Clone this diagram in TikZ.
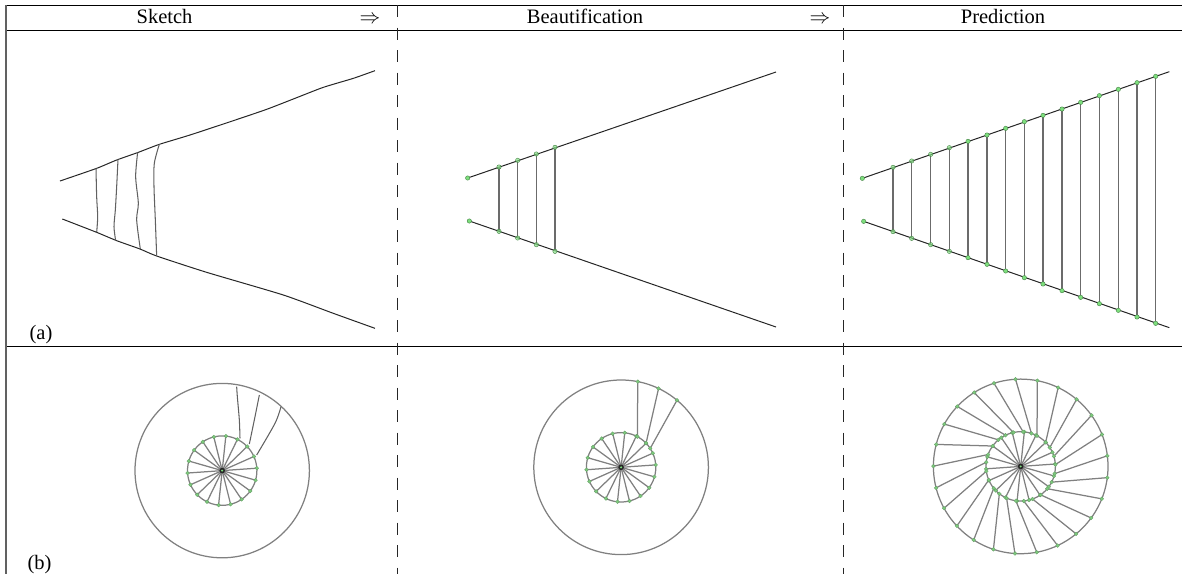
\documentclass[tikz,border=0pt]{standalone}
\usepackage{fontspec}
\setmainfont{Liberation Serif}
\definecolor{dotfill}{RGB}{125,222,125}
\definecolor{dotedge}{RGB}{70,130,70}
\definecolor{dotsoft}{RGB}{125,200,125}
\tikzset{
  rule/.style={line width=1pt,black},
  leftrule/.style={line width=1.3pt,black!62},
  sepline/.style={line width=1pt,black!85,dash pattern=on 12pt off 10.5pt},
  ink/.style={line width=1pt,black!85,line join=round},
  rungs/.style={line width=1.2pt,black!58},
  wheel/.style={line width=1.25pt,black!50},
  hand/.style={line width=1.05pt,black!62,line join=round},
  gdot/.style={circle,fill=dotfill,draw=dotedge,line width=0.4pt,inner sep=0pt,minimum size=4.4pt},
  gdim/.style={circle,fill=dotfill,fill opacity=0.65,draw=dotedge,line width=0.4pt,inner sep=0pt,minimum size=4.4pt},
  sdot/.style={circle,fill=dotsoft,draw=dotsoft!80!black,line width=0.3pt,inner sep=0pt,minimum size=3.8pt},
  label/.style={anchor=base,inner sep=0pt,font=\fontsize{20.5}{24}\selectfont},
  zoomed/.style={x=0.33333pt,y=-0.33333pt}
}
% inner wheel: 18 spokes and their dots
\newcommand{\innerwheel}{%
  \foreach \k in {0,...,17}{%
    \pgfmathsetmacro{\ang}{64-20*\k}%
    \draw[wheel] (0,0) -- ({34.7*cos(\ang)},{-34.7*sin(\ang)});
  }%
  \draw[wheel] (0,0) circle (34.7);
}
\newcommand{\innerdots}{%
  \foreach \k in {0,...,17}{%
    \pgfmathsetmacro{\ang}{64-20*\k}%
    \node[sdot] at ({34.7*cos(\ang)},{-34.7*sin(\ang)}) {};
  }%
  \fill[black!85] (0,0) circle (2.8);
  \fill[dotfill] (0,0) circle (1.1);
}
\begin{document}
\begin{tikzpicture}[x=1pt,y=-1pt]
\useasboundingbox (0,0) rectangle (1182,574);

% table rules
\draw[rule] (5.5,5.3) -- (1182,5.3);
\draw[rule] (5.5,30.2) -- (1182,30.2);
\draw[rule] (5.5,346) -- (1182,346);
\draw[leftrule] (6,5) -- (6,574);
\draw[sepline] (397.5,5) -- (397.5,574);
\draw[sepline] (843.3,5) -- (843.3,574);

% header and row labels
\node[label] (h1) at (164.5,23) {Sketch};
\node[label] (a1) at (370,23) {$\Rightarrow$};
\node[label] (h2) at (585,23) {Beautification};
\node[label] (a2) at (820,23) {$\Rightarrow$};
\node[label] (h3) at (1003,23) {Prediction};
\node[label] (ra) at (41,339) {(a)};
\node[label] (rb) at (39.5,569) {(b)};

% (a) sketch
\begin{scope}[zoomed]
\draw[ink] plot[smooth,tension=0.35] coordinates {(180,543) (290,505) (350,480) (415,457) (478,433) (570,405) (700,362) (800,328) (885,295) (970,262) (1060,235) (1125,212)};
\draw[ink] plot[smooth,tension=0.35] coordinates {(187,657) (290,697) (350,722) (420,747) (470,768) (620,817) (850,885) (1000,940) (1125,985)};
\draw[hand] plot[smooth] coordinates {(288,505) (290,590) (293,650) (290,697)};
\draw[hand] plot[smooth] coordinates {(354,478) (350,560) (346,630) (342,680) (347,722)};
\draw[hand] plot[smooth] coordinates {(413,457) (407,530) (415,610) (410,660) (421,747)};
\draw[hand] plot[smooth] coordinates {(478,433) (463,490) (462,560) (466,660) (470,768)};
\end{scope}

% (a) beautification
\begin{scope}[shift={(440,130)},zoomed]
\draw[ink] (83,144) -- (1008,-174);
\draw[ink] (88,273) -- (1008,591);
\foreach \x/\t/\b in {177/111/304,233/91/324,289/72/344,345/52/364}{
  \draw[rungs] (\x,\t) -- (\x,\b);
}
\foreach \x/\t/\b in {177/111/304,233/91/324,289/72/344,345/52/364}{
  \node[gdim] at (\x,\t) {};
  \node[gdim] at (\x,\b) {};
}
\node[gdot] at (83,144) {};
\node[gdot] at (88,273) {};
\end{scope}

% (a) prediction
\begin{scope}[shift={(850,60)},zoomed]
\draw[ink] (37,355) -- (958,35);
\draw[ink] (41,484) -- (958,803);
\foreach \x/\t/\b in {129/322/515,185/303/535,242/283/554,298/263/574,354/244/593,411/225/613,467/205/633,523/185/653,579/166/672,636/147/692,692/127/712,748/107/731,805/88/751,861/68/771,917/49/790}{
  \draw[rungs] (\x,\t) -- (\x,\b);
}
\foreach \x/\t/\b in {129/322/515,185/303/535,242/283/554,298/263/574}{
  \node[gdim] at (\x,\t) {};
  \node[gdim] at (\x,\b) {};
}
\foreach \x/\t/\b in {354/244/593,411/225/613,467/205/633,523/185/653,579/166/672,636/147/692,692/127/712,748/107/731,805/88/751,861/68/771,917/49/790}{
  \node[gdot] at (\x,\t) {};
  \node[gdot] at (\x,\b) {};
}
\node[gdot] at (37,355) {};
\node[gdot] at (41,484) {};
\end{scope}

% (b) sketch
\begin{scope}[shift={(222.2,470.6)}]
\draw[wheel] (0,0) circle (87.2);
\innerwheel
\innerdots
\end{scope}
\begin{scope}[shift={(120,370)},zoomed]
\draw[hand] plot[smooth] coordinates {(350,50) (352,80) (358,150) (360,205)};
\draw[hand] plot[smooth] coordinates {(418,75) (405,140) (388,222)};
\draw[hand] plot[smooth] coordinates {(483,110) (465,160) (410,255)};
\end{scope}

% (b) beautification
\begin{scope}[shift={(621.1,467.3)}]
\draw[wheel] (0,0) circle (87.3);
\innerwheel
\foreach \k/\e in {0/62,1/44,2/33}{
  \pgfmathsetmacro{\oa}{79-14.4*\k}
  \draw[wheel] ({87.3*cos(\oa)},{-87.3*sin(\oa)}) -- ({34.7*cos(\e)},{-34.7*sin(\e)});
}
\innerdots
\foreach \k/\e in {0/62,1/44,2/33}{
  \pgfmathsetmacro{\oa}{79-14.4*\k}
  \node[sdot] at ({87.3*cos(\oa)},{-87.3*sin(\oa)}) {};
  \node[sdot] at ({34.7*cos(\e)},{-34.7*sin(\e)}) {};
}
\end{scope}

% (b) prediction
\begin{scope}[shift={(1020.7,466.4)}]
\draw[wheel] (0,0) circle (87.3);
\innerwheel
\foreach \k/\e in {0/62,1/44,2/33,3/17,4/3,5/-12,6/-27,7/-40,8/-55,9/-70,10/-85,11/-98,12/-114,13/-128,14/-141,15/-157,16/-172,17/173,18/160,19/144,20/130,21/116,22/102,23/86,24/72}{
  \pgfmathsetmacro{\oa}{79-14.4*\k}
  \draw[wheel] ({87.3*cos(\oa)},{-87.3*sin(\oa)}) -- ({34.7*cos(\e)},{-34.7*sin(\e)});
}
\innerdots
\foreach \k/\e in {0/62,1/44,2/33,3/17,4/3,5/-12,6/-27,7/-40,8/-55,9/-70,10/-85,11/-98,12/-114,13/-128,14/-141,15/-157,16/-172,17/173,18/160,19/144,20/130,21/116,22/102,23/86,24/72}{
  \pgfmathsetmacro{\oa}{79-14.4*\k}
  \node[sdot] at ({87.3*cos(\oa)},{-87.3*sin(\oa)}) {};
  \node[sdot] at ({34.7*cos(\e)},{-34.7*sin(\e)}) {};
}
\end{scope}
\end{tikzpicture}
\end{document}
